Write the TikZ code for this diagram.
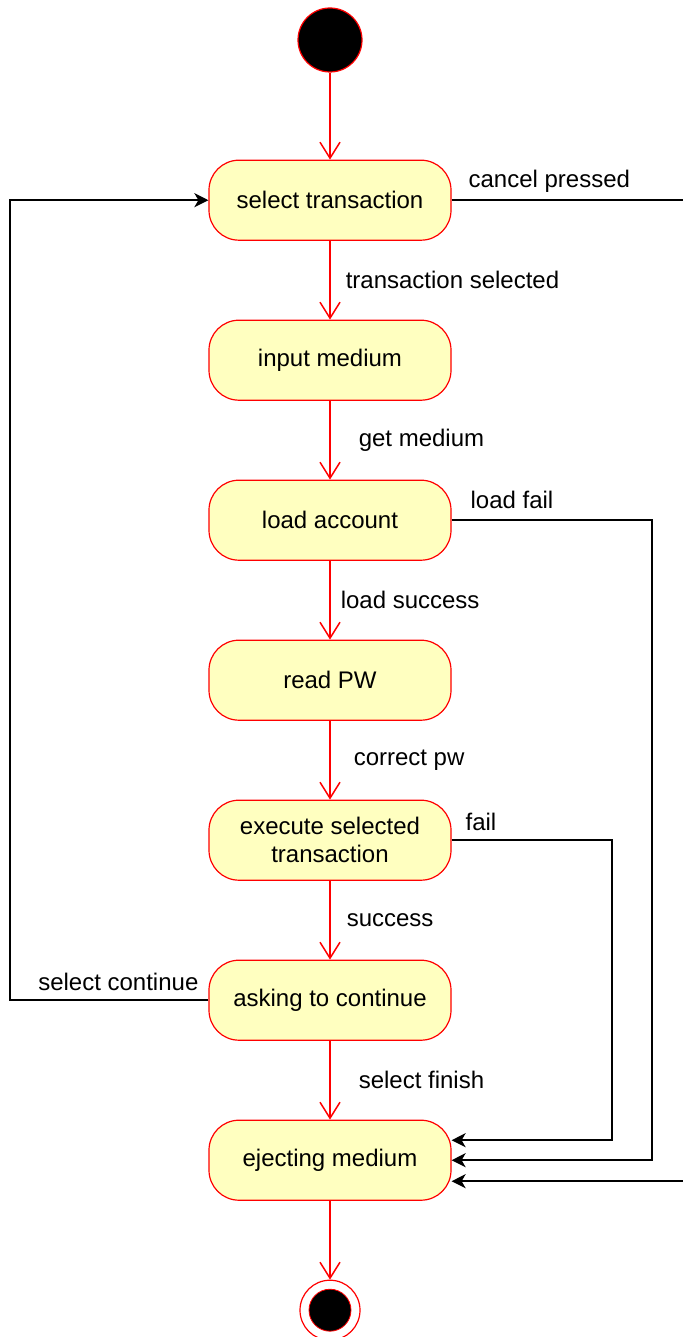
\documentclass[tikz,border=0pt]{standalone}
\usepackage{fontspec}
\setmainfont{Liberation Sans}
\usetikzlibrary{positioning}
\usetikzlibrary{arrows.meta}

\definecolor{statefill}{RGB}{255,255,192}

\begin{document}
\begin{tikzpicture}[
font = \fontsize{12}{14}\selectfont,
node distance = 39.4pt,
state/.style = {shape = rectangle, rounded corners = 15pt, draw = red, fill = statefill, line width = 0.6pt, minimum width = 121pt, minimum height = 40pt, align = center, inner sep = 0.1cm},
startstate/.style = {shape = circle, draw = red, fill = black, line width = 0.6pt, minimum size = 32pt, inner sep = 0pt},
endstate/.style = {shape = circle, draw = red, line width = 0.6pt, minimum size = 30pt, inner sep = 0pt, path picture = {\filldraw[fill = black, draw = red, line width = 0.4pt] (path picture bounding box.center) circle (10.5pt);}},
trans/.style = {draw = red, line width = 0.75pt, -{Straight Barb[length = 8pt, width = 10pt]}},
back/.style = {draw = black, line width = 1pt, -{Stealth[length = 7pt, width = 7pt, inset = 2pt]}},
lbl/.style = {inner sep = 0pt, anchor = west},
]
\useasboundingbox (-165pt, 20pt) rectangle (176.5pt, -648.5pt);

\node[startstate] (start) at (0, 0) {};
\node[state] (select) [below = 43.5pt of start] {select transaction};
\node[state] (input) [below = of select] {input medium};
\node[state] (load) [below = of input] {load account};
\node[state] (read) [below = of load] {read PW};
\node[state] (execute) [below = of read] {execute selected\\transaction};
\node[state] (asking) [below = of execute] {asking to continue};
\node[state] (eject) [below = of asking] {ejecting medium};
\node[endstate] (stop) [below = of eject] {};

\path[trans] (start) edge (select);
\path[trans] (select) edge node[lbl, xshift = 7.5pt] {transaction selected} (input);
\path[trans] (input) edge node[lbl, xshift = 14pt] {get medium} (load);
\path[trans] (load) edge node[lbl, xshift = 5pt] {load success} (read);
\path[trans] (read) edge node[lbl, xshift = 11.5pt] {correct pw} (execute);
\path[trans] (execute) edge node[lbl, xshift = 8pt] {success} (asking);
\path[trans] (asking) edge node[lbl, xshift = 14pt] {select finish} (eject);
\path[trans] (eject) edge (stop);

\draw[back] (select.east) node[lbl, xshift = 8pt, yshift = 9.5pt] {cancel pressed} -- ++(130pt, 0) |- ([yshift = -10.5pt]eject.east);
\draw[back] (load.east) node[lbl, xshift = 9pt, yshift = 10pt] {load fail} -- ++(100pt, 0) |- (eject.east);
\draw[back] (execute.east) node[lbl, xshift = 6.5pt, yshift = 9pt] {fail} -- ++(80pt, 0) |- ([yshift = 10pt]eject.east);
\draw[back] (asking.west) node[lbl, anchor = east, xshift = -4.5pt, yshift = 9pt] {select continue} -- ++(-99pt, 0) |- (select.west);
\end{tikzpicture}
\end{document}
